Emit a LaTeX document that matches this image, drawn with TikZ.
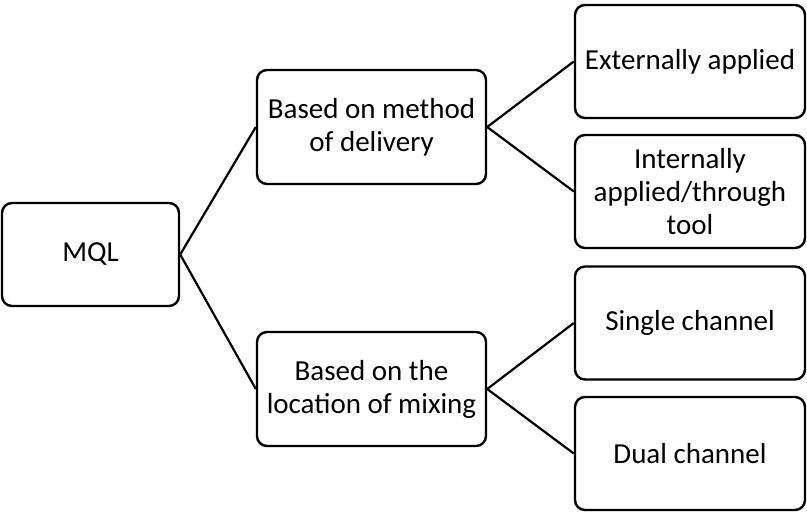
\documentclass[tikz,border=0pt]{standalone}
\usepackage{fontspec}
\setmainfont{Carlito}
\begin{document}
\begin{tikzpicture}[x=1pt,y=-1pt]
        \tikzset{box/.style={draw,rounded corners=10pt,line width=2.4pt,align=center,
                inner sep=0pt,font=\fontsize{29}{33}\selectfont},
            root/.style={box,minimum width=177pt,minimum height=103pt},
            mid/.style={box,minimum width=229pt,minimum height=114pt},
            leaf/.style={box,minimum width=230pt,minimum height=113pt},
            link/.style={draw,line width=2.2pt}}
        \useasboundingbox (0,0) rectangle (807,512);
        \node[root] (mql) at (90.5,254.5) {MQL};
        \node[mid] (delivery) at (371.5,127) {Based on method\\of delivery};
        \node[mid] (mixing) at (371.5,389) {Based on the\\location of mixing};
        \node[leaf] (external) at (690,61.5) {Externally applied};
        \node[leaf] (internal) at (690,191.5) {Internally\\applied/through\\tool};
        \node[leaf] (single) at (690,323) {Single channel};
        \node[leaf] (dual) at (690,453.5) {Dual channel};
        \foreach \a/\b in {mql/delivery,mql/mixing,delivery/external,
                delivery/internal,mixing/single,mixing/dual}
            \path[link] (\a.east) -- (\b.west);
    \end{tikzpicture}
\end{document}
